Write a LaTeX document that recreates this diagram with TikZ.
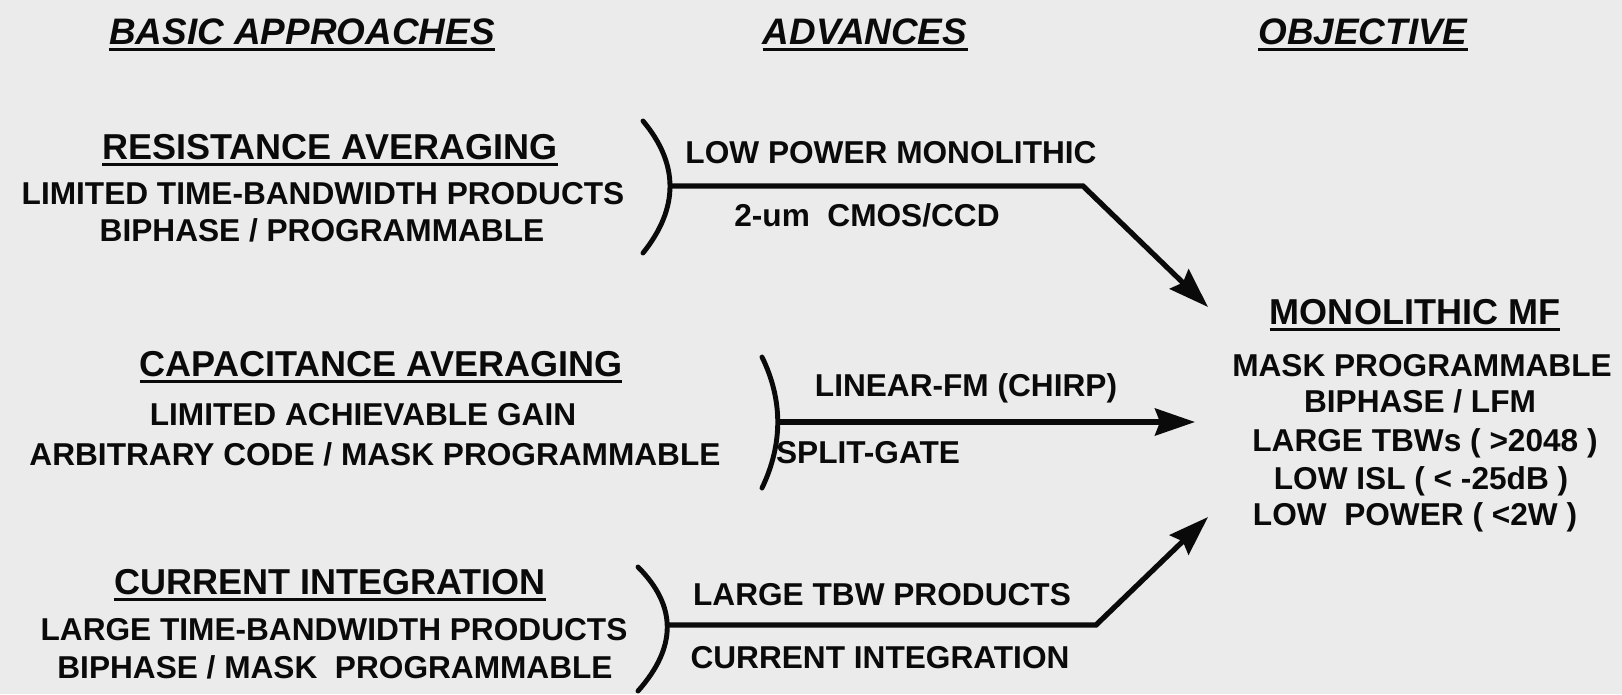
\documentclass[tikz,border=0pt]{standalone}
\usepackage{fontspec}
\setmainfont{Liberation Sans}
\usetikzlibrary{arrows.meta,positioning}
\definecolor{papel}{HTML}{EBEBEB}
\definecolor{tinta}{HTML}{0A0A0A}

\begin{document}
\begin{tikzpicture}[x=0.02cm, y=-0.02cm,
    titulo/.style={font=\fontsize{21}{24}\selectfont\bfseries\itshape, text=tinta,
                   text height=15pt, text depth=0pt, inner xsep=0pt, inner ysep=2.8pt,
                   append after command={(\tikzlastnode.south west) edge[line width=2.2pt, draw=tinta] (\tikzlastnode.south east)}},
    subtitulo/.style={font=\fontsize{20.5}{24}\selectfont\bfseries, text=tinta,
                      text height=14.7pt, text depth=0pt, inner xsep=0pt, inner ysep=2.6pt,
                      append after command={(\tikzlastnode.south west) edge[line width=1.7pt, draw=tinta] (\tikzlastnode.south east)}},
    linea/.style={font=\fontsize{18}{21}\selectfont\bfseries, text=tinta,
                  text height=12.9pt, text depth=0pt, inner sep=0pt},
    llave/.style={line width=2.8pt, draw=tinta, line cap=round},
    flecha/.style={-{Stealth[length=8mm, width=5.4mm, inset=1mm]}, line width=3pt, draw=tinta, line join=miter}
  ]
  \fill[papel] (0,0) rectangle (1622,694);
  \useasboundingbox (0,0) rectangle (1622,694);

  % Encabezados
  \node[titulo] (basico) at (302,31) {BASIC APPROACHES};
  \node[titulo] (avance) at (865,31) {ADVANCES};
  \node[titulo] (objetivo) at (1363,31) {OBJECTIVE};

  % Enfoques basicos
  \node[subtitulo] (resist) at (330,147) {RESISTANCE AVERAGING};
  \node[linea] (resist1) at (323,193) {LIMITED TIME-BANDWIDTH PRODUCTS};
  \node[linea] (resist2) at (322,230) {BIPHASE / PROGRAMMABLE};

  \node[subtitulo] (capac) at (381,364) {CAPACITANCE AVERAGING};
  \node[linea] (capac1) at (363,414) {LIMITED ACHIEVABLE GAIN};
  \node[linea] (capac2) at (375,454) {ARBITRARY CODE / MASK PROGRAMMABLE};

  \node[subtitulo] (corr) at (330,582) {CURRENT INTEGRATION};
  \node[linea] (corr1) at (334,629) {LARGE TIME-BANDWIDTH PRODUCTS};
  \node[linea] (corr2) at (335,667) {BIPHASE / MASK\ \ PROGRAMMABLE};

  % Avances
  \node[linea] (avA1) at (891,152) {LOW POWER MONOLITHIC};
  \node[linea] (avA2) at (867,215) {2-um\ \ CMOS/CCD};
  \node[linea] (avB1) at (966,385) {LINEAR-FM (CHIRP)};
  \node[linea] (avB2) at (868,452) {SPLIT-GATE};
  \node[linea] (avC1) at (882,594) {LARGE TBW PRODUCTS};
  \node[linea] (avC2) at (880,657) {CURRENT INTEGRATION};

  % Objetivo
  \node[subtitulo] (mono) at (1415,312) {MONOLITHIC MF};
  \node[linea] (mono1) at (1422,365) {MASK PROGRAMMABLE};
  \node[linea] (mono2) at (1420,401) {BIPHASE / LFM};
  \node[linea] (mono3) at (1425,440) {LARGE TBWs ( >2048 )};
  \node[linea] (mono4) at (1421,478) {LOW ISL ( < -25dB )};
  \node[linea] (mono5) at (1415,514) {LOW\ \ POWER ( <2W )};

  % Llaves y flechas
  \coordinate (llA1) at (643,121);
  \coordinate (llA) at (670,186);
  \coordinate (llA2) at (643,253);
  \coordinate (codoA) at (1083,186);
  \coordinate (puntaA) at (1208,307);

  \coordinate (llB1) at (762,357);
  \coordinate (llB) at (778,422);
  \coordinate (llB2) at (762,488);
  \coordinate (puntaB) at (1195,422);

  \coordinate (llC1) at (638,567);
  \coordinate (llC) at (667,625);
  \coordinate (llC2) at (638,691);
  \coordinate (codoC) at (1096,625);
  \coordinate (puntaC) at (1208,517);

  \draw[llave] (llA1) .. controls (679,164) and (679,208) .. (llA2);
  \draw[llave] (llB1) .. controls (783,400) and (783,444) .. (llB2);
  \draw[llave] (llC1) .. controls (677,606) and (677,647) .. (llC2);

  \draw[flecha] (llA) -- (codoA) -- (puntaA);
  \draw[flecha] (llB) -- (puntaB);
  \draw[flecha] (llC) -- (codoC) -- (puntaC);
\end{tikzpicture}
\end{document}
